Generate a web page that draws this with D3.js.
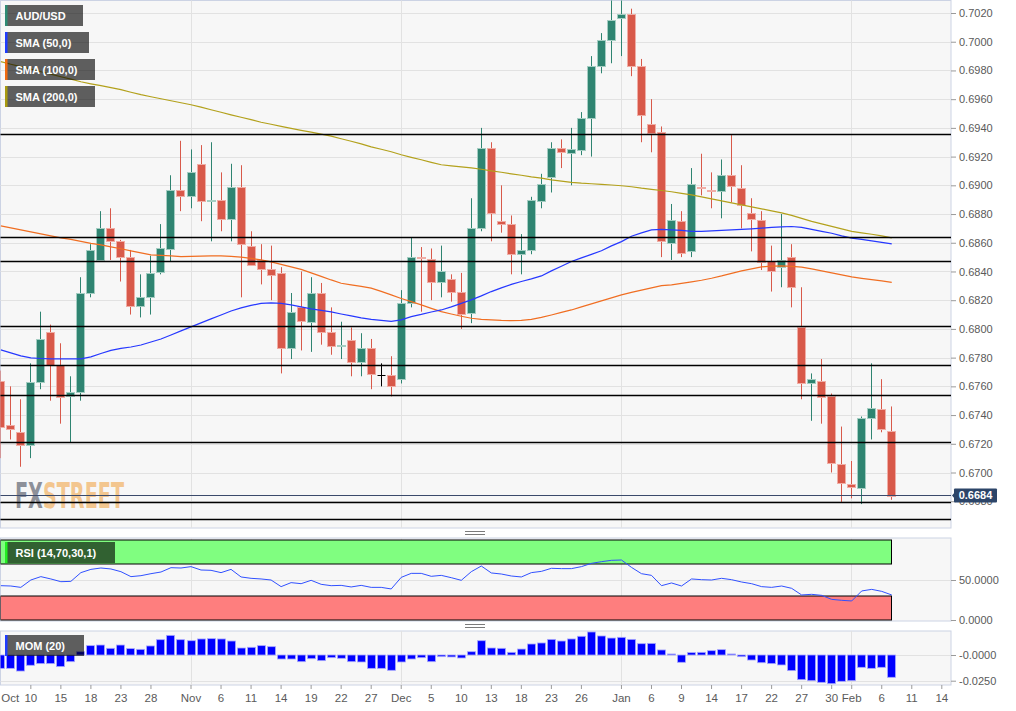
<!DOCTYPE html>
<html><head><meta charset="utf-8">
<script src="https://cdn.jsdelivr.net/npm/d3@7"></script>
<style>body{margin:0;background:#fff;}svg{display:block;font-family:"Liberation Sans",Arial,sans-serif;}</style>
</head><body>
<svg id="c" width="1016" height="711"></svg>
<script>
// ---------------- DATA ----------------
const dates = ["2019-10-07","2019-10-08","2019-10-09","2019-10-10","2019-10-11","2019-10-14","2019-10-15","2019-10-16","2019-10-17","2019-10-18",
"2019-10-21","2019-10-22","2019-10-23","2019-10-24","2019-10-25","2019-10-28","2019-10-29","2019-10-30","2019-10-31",
"2019-11-01","2019-11-04","2019-11-05","2019-11-06","2019-11-07","2019-11-08","2019-11-11","2019-11-12","2019-11-13","2019-11-14","2019-11-15",
"2019-11-18","2019-11-19","2019-11-20","2019-11-21","2019-11-22","2019-11-25","2019-11-26","2019-11-27","2019-11-28","2019-11-29",
"2019-12-02","2019-12-03","2019-12-04","2019-12-05","2019-12-06","2019-12-09","2019-12-10","2019-12-11","2019-12-12","2019-12-13",
"2019-12-16","2019-12-17","2019-12-18","2019-12-19","2019-12-20","2019-12-23","2019-12-24","2019-12-25","2019-12-26","2019-12-27","2019-12-30","2019-12-31",
"2020-01-01","2020-01-02","2020-01-03","2020-01-06","2020-01-07","2020-01-08","2020-01-09","2020-01-10","2020-01-13","2020-01-14","2020-01-15",
"2020-01-16","2020-01-17","2020-01-20","2020-01-21","2020-01-22","2020-01-23","2020-01-24","2020-01-27","2020-01-28","2020-01-29","2020-01-30","2020-01-31",
"2020-02-03","2020-02-04","2020-02-05","2020-02-06","2020-02-07"];
const futureDates = ["2020-02-10","2020-02-11","2020-02-12","2020-02-13","2020-02-14"];

const opens = [0.6764,0.6733,0.6728,0.6719,0.6763,0.6798,0.6775,0.6753,0.6756,0.6825,
0.6848,0.6870,0.6861,0.6850,0.6816,0.6822,0.6839,0.6856,0.6897,
0.6892,0.6915,0.6889,0.6890,0.6877,0.6899,0.6858,0.6848,0.6842,0.6839,0.6787,
0.6815,0.6805,0.6825,0.6798,0.6788,0.6792,0.6777,0.6787,0.6768,0.6768,
0.6765,0.6818,0.6850,0.6849,0.6832,0.6835,0.6826,0.6811,0.6870,0.6926,
0.6875,0.6873,0.6852,0.6855,0.6889,0.6906,0.6926,0.6922,0.6925,0.6947,0.6983,0.7001,
0.7016,0.7019,0.6983,0.6943,0.6937,0.6860,0.6875,0.6854,0.6899,0.6897,0.6896,
0.6907,0.6898,0.6881,0.6876,0.6847,0.6843,0.6850,0.6801,0.6762,0.6764,0.6753,0.6706,
0.6692,0.6689,0.6738,0.6744,0.6729];
const highs = [0.6771,0.6760,0.6751,0.6776,0.6812,0.6803,0.6790,0.6767,0.6836,0.6859,
0.6882,0.6884,0.6862,0.6855,0.6838,0.6851,0.6873,0.6907,0.6931,
0.6925,0.6928,0.6930,0.6909,0.6915,0.6914,0.6868,0.6859,0.6858,0.6843,0.6825,
0.6840,0.6836,0.6832,0.6815,0.6805,0.6801,0.6797,0.6793,0.6776,0.6781,
0.6827,0.6864,0.6857,0.6856,0.6858,0.6838,0.6839,0.6891,0.6940,0.6930,
0.6900,0.6879,0.6866,0.6892,0.6908,0.6930,0.6932,0.6940,0.6951,0.6990,0.7006,0.7032,
0.7032,0.7023,0.6988,0.6960,0.6941,0.6887,0.6882,0.6912,0.6922,0.6909,0.6918,
0.6935,0.6914,0.6891,0.6882,0.6858,0.6880,0.6859,0.6829,0.6769,0.6779,0.6755,0.6732,
0.6708,0.6739,0.6776,0.6765,0.6746];
const lows = [0.6710,0.6723,0.6704,0.6710,0.6758,0.6750,0.6734,0.6721,0.6750,0.6822,
0.6847,0.6848,0.6833,0.6810,0.6808,0.6810,0.6838,0.6847,0.6882,
0.6884,0.6875,0.6861,0.6868,0.6861,0.6822,0.6844,0.6831,0.6820,0.6769,0.6779,
0.6785,0.6784,0.6789,0.6782,0.6779,0.6767,0.6767,0.6758,0.6760,0.6753,
0.6762,0.6815,0.6812,0.6820,0.6822,0.6819,0.6800,0.6804,0.6868,0.6861,
0.6867,0.6838,0.6838,0.6852,0.6884,0.6895,0.6912,0.6900,0.6921,0.6920,0.6978,0.6985,
0.6990,0.6976,0.6930,0.6923,0.6850,0.6848,0.6850,0.6850,0.6893,0.6884,0.6877,
0.6888,0.6870,0.6854,0.6841,0.6826,0.6829,0.6815,0.6751,0.6736,0.6734,0.6700,0.6679,
0.6682,0.6678,0.6723,0.6728,0.6681];
const closes = [0.6732,0.6730,0.6719,0.6763,0.6793,0.6775,0.6753,0.6756,0.6825,0.6855,
0.6870,0.6861,0.6850,0.6816,0.6822,0.6839,0.6856,0.6897,0.6893,
0.6909,0.6889,0.6890,0.6877,0.6899,0.6859,0.6845,0.6842,0.6838,0.6787,0.6812,
0.6805,0.6825,0.6798,0.6788,0.6789,0.6777,0.6787,0.6769,0.6768,0.6760,
0.6818,0.6850,0.6849,0.6833,0.6840,0.6826,0.6811,0.6870,0.6926,0.6881,
0.6873,0.6852,0.6855,0.6890,0.6901,0.6926,0.6923,0.6925,0.6947,0.6983,0.7001,0.7015,
0.7019,0.6983,0.6949,0.6937,0.6861,0.6876,0.6853,0.6901,0.6898,0.6896,0.6907,
0.6899,0.6886,0.6877,0.6847,0.6840,0.6848,0.6829,0.6762,0.6765,0.6753,0.6706,0.6693,
0.6690,0.6738,0.6745,0.6730,0.6684];

const sma50 = [0.67854,0.67833,0.67812,0.67798,0.67794,0.67791,0.67791,0.67791,0.67791,0.67805,
0.67829,0.67850,0.67864,0.67874,0.67888,0.67909,0.67930,0.67958,0.67986,
0.68014,0.68042,0.68070,0.68097,0.68125,0.68146,0.68164,0.68178,0.68181,0.68178,0.68167,
0.68153,0.68139,0.68129,0.68118,0.68104,0.68091,0.68077,0.68066,0.68059,0.68052,
0.68063,0.68086,0.68101,0.68118,0.68132,0.68153,0.68178,0.68202,0.68230,0.68260,
0.68286,0.68310,0.68330,0.68348,0.68369,0.68404,0.68436,0.68469,0.68495,0.68519,0.68544,0.68578,
0.68608,0.68645,0.68669,0.68690,0.68693,0.68690,0.68686,0.68679,0.68679,0.68683,0.68686,
0.68690,0.68693,0.68697,0.68702,0.68707,0.68711,0.68713,0.68707,0.68693,0.68679,0.68666,0.68648,
0.68632,0.68624,0.68613,0.68603,0.68592];
const sma100 = [0.68718,0.68704,0.68690,0.68676,0.68662,0.68648,0.68634,0.68624,0.68610,0.68596,
0.68585,0.68571,0.68558,0.68544,0.68530,0.68516,0.68512,0.68509,0.68504,
0.68505,0.68507,0.68509,0.68509,0.68505,0.68500,0.68491,0.68481,0.68467,0.68449,0.68432,
0.68415,0.68390,0.68366,0.68341,0.68318,0.68307,0.68296,0.68284,0.68261,0.68237,
0.68212,0.68190,0.68167,0.68143,0.68120,0.68104,0.68088,0.68074,0.68067,0.68063,
0.68059,0.68058,0.68060,0.68067,0.68080,0.68097,0.68115,0.68132,0.68153,0.68174,0.68195,0.68216,
0.68237,0.68254,0.68270,0.68286,0.68302,0.68307,0.68317,0.68328,0.68339,0.68353,0.68369,
0.68387,0.68404,0.68418,0.68432,0.68437,0.68439,0.68436,0.68430,0.68418,0.68404,0.68390,0.68376,
0.68362,0.68352,0.68343,0.68334,0.68324];
const sma200 = [0.69861,0.69843,0.69826,0.69809,0.69791,0.69774,0.69756,0.69739,0.69721,0.69707,
0.69694,0.69680,0.69666,0.69648,0.69631,0.69617,0.69603,0.69589,0.69575,
0.69561,0.69544,0.69526,0.69509,0.69491,0.69474,0.69457,0.69439,0.69425,0.69411,0.69397,
0.69383,0.69370,0.69356,0.69342,0.69324,0.69307,0.69289,0.69268,0.69251,0.69234,
0.69213,0.69195,0.69178,0.69160,0.69143,0.69136,0.69129,0.69122,0.69112,0.69101,
0.69091,0.69080,0.69070,0.69059,0.69050,0.69038,0.69029,0.69021,0.69015,0.69011,0.69006,0.69002,
0.68997,0.68990,0.68980,0.68972,0.68964,0.68955,0.68944,0.68934,0.68920,0.68906,0.68892,
0.68878,0.68864,0.68850,0.68836,0.68822,0.68808,0.68791,0.68770,0.68749,0.68732,0.68714,0.68697,
0.68679,0.68669,0.68659,0.68648,0.68634];

const rsi = [42.9,42.5,40.8,50.0,54.2,51.3,47.9,48.3,59.2,63.3,
65.0,63.8,60.4,54.2,55.4,57.9,60.0,65.4,65.0,
66.7,62.5,62.1,59.2,63.3,53.8,52.1,51.3,50.0,41.7,46.7,
45.4,49.6,44.6,42.9,43.3,41.3,43.3,40.8,40.8,38.8,
53.3,58.3,58.3,54.6,55.8,52.9,49.6,60.4,67.5,58.8,
57.5,55.0,53.8,59.2,60.8,64.6,64.2,64.2,66.7,70.8,72.9,74.6,
75.0,65.8,57.9,55.8,42.9,46.3,42.5,51.3,50.4,50.0,52.1,
50.4,47.5,45.4,41.7,40.8,42.5,39.6,31.3,32.1,30.8,25.8,24.6,
23.8,36.3,38.3,35.8,31.3];
const mom = [-0.0130,-0.0130,-0.0156,-0.0100,-0.0084,-0.0084,-0.0113,-0.0065,0.0032,0.0091,
0.0097,0.0065,0.0097,0.0062,0.0055,0.0088,0.0149,0.0191,0.0149,
0.0139,0.0156,0.0159,0.0156,0.0136,0.0068,0.0075,0.0091,0.0081,-0.0039,-0.0039,
-0.0065,-0.0036,-0.0055,-0.0026,-0.0032,-0.0065,-0.0068,-0.0130,-0.0130,-0.0149,
-0.0068,-0.0039,-0.0026,-0.0065,-0.0016,-0.0019,-0.0029,0.0032,0.0139,0.0068,
0.0065,0.0026,0.0058,0.0107,0.0117,0.0152,0.0136,0.0156,0.0182,0.0224,0.0185,0.0165,
0.0172,0.0152,0.0110,0.0113,0.0049,0.0010,-0.0071,0.0023,0.0026,0.0042,0.0052,
0.0010,-0.0016,-0.0049,-0.0075,-0.0084,-0.0097,-0.0152,-0.0240,-0.0250,-0.0266,-0.0279,-0.0256,
-0.0250,-0.0120,-0.0130,-0.0120,-0.0217];

const priceTicks = [0.6680,0.6700,0.6720,0.6740,0.6760,0.6780,0.6800,0.6820,0.6840,0.6860,0.6880,0.6900,0.6920,0.6940,0.6960,0.6980,0.7000,0.7020];
const rsiTicks = [0,50];
const momTicks = [0,-0.025];
const srLevels = [0.69355,0.68642,0.68473,0.68018,0.67747,0.67538,0.67210,0.66792,0.66674];
const lastPrice = 0.6684;
const monthStarts = ["2019-11-01","2019-12-02","2020-01-01","2020-02-03"];
const xTickDates = ["2019-10-07","2019-10-10","2019-10-15","2019-10-18","2019-10-23","2019-10-28","2019-11-01","2019-11-06","2019-11-11","2019-11-14","2019-11-19","2019-11-22","2019-11-27","2019-12-02","2019-12-05","2019-12-10","2019-12-13","2019-12-18","2019-12-23","2019-12-26","2020-01-01","2020-01-06","2020-01-09","2020-01-14","2020-01-17","2020-01-22","2020-01-27","2020-01-30","2020-02-03","2020-02-06","2020-02-11","2020-02-14"];
const xTickLabels = ["Oct","10","15","18","23","28","Nov","6","11","14","19","22","27","Dec","5","10","13","18","23","26","Jan","6","9","14","17","22","27","30","Feb","6","11","14"];

// ---------------- LAYOUT ----------------
const svg = d3.select("#c");
const PR = 951;
const P = {main:[0.5,528], rsi:[538,621], mom:[631,685]};
const allDates = dates.concat(futureDates);
const di = d => allDates.indexOf(d);
const x = d3.scaleLinear().domain([0,94]).range([0.3,941.3]);
const y = d3.scaleLinear().domain([0.6700,0.7020]).range([472.5,13]);
const yR = d3.scaleLinear().domain([0,100]).range([620,540]);
const yM = d3.scaleLinear().domain([0,-0.025]).range([655,680.7]);
const cx = i => Math.round(x(i)) + 0.5;
const crisp = v => Math.round(v) + 0.5;

const defs = svg.append("defs");
Object.entries(P).forEach(([k,[t,b]])=>{
  defs.append("clipPath").attr("id","clip-"+k).append("rect").attr("x",0.5).attr("y",t).attr("width",PR-0.5).attr("height",b-t);
});

svg.append("rect").attr("width",1016).attr("height",711).attr("fill","#fff");
Object.entries(P).forEach(([k,[t,b]])=>{
  svg.append("rect").attr("x",0.5).attr("y",t).attr("width",PR-0.5).attr("height",b-t)
    .attr("fill","#f7f7f7").attr("stroke","#ccd3e4").attr("stroke-width",1);
});

// grips
[[531.5,534.5],[624.5,627.5]].forEach(ys=>ys.forEach(yy=>{
  svg.append("line").attr("x1",465).attr("x2",485).attr("y1",yy).attr("y2",yy).attr("stroke","#7a7a7a").attr("stroke-width",1);
}));

// ---------------- MAIN PANEL ----------------
const gm = svg.append("g").attr("clip-path","url(#clip-main)");
gm.selectAll(".hg").data(priceTicks).join("line").attr("x1",0).attr("x2",PR)
  .attr("y1",d=>crisp(y(d))).attr("y2",d=>crisp(y(d))).attr("stroke","#e2e2e2");
const vGrid = (g,t,b)=>g.selectAll(".vg").data(monthStarts).join("line")
  .attr("x1",d=>cx(di(d))).attr("x2",d=>cx(di(d))).attr("y1",t).attr("y2",b).attr("stroke","#e2e2e2");
vGrid(gm,0,528);

// watermark (single text, two coloured parts)
const wm = gm.append("text").attr("x",15).attr("y",508).attr("font-family","'DejaVu Sans Condensed','DejaVu Sans'").attr("font-weight","bold")
  .attr("font-size",35).attr("textLength",109).attr("lengthAdjust","spacingAndGlyphs");
wm.append("tspan").attr("fill","#8d9099").text("FX");
wm.append("tspan").attr("fill","#f3c68f").text("STREET");

// candles
const candles = dates.map((d,i)=>({i,o:opens[i],h:highs[i],l:lows[i],c:closes[i]}));
const colOf = d => d.c>d.o ? "up" : (d.c<d.o ? "down" : "flat");
const fillC = {up:"#2f8471",down:"#d8594a",flat:"#000"};
const strokeC = {up:"#a4cdc2",down:"#f0ada5",flat:"#000"};
const cg = gm.append("g");
cg.selectAll(".wick").data(candles).join("line")
  .attr("x1",d=>cx(d.i)).attr("x2",d=>cx(d.i)).attr("y1",d=>y(d.h)).attr("y2",d=>y(d.l))
  .attr("stroke",d=>fillC[colOf(d)]).attr("stroke-width",1);
cg.selectAll(".body").data(candles.filter(d=>colOf(d)!=="flat")).join("rect")
  .attr("x",d=>cx(d.i)-4).attr("width",8)
  .attr("y",d=>Math.round(y(Math.max(d.o,d.c)))+0.5)
  .attr("height",d=>Math.max(1,Math.round(Math.abs(y(d.o)-y(d.c)))))
  .attr("fill",d=>fillC[colOf(d)]).attr("stroke",d=>strokeC[colOf(d)]).attr("stroke-width",1);
cg.selectAll(".doji").data(candles.filter(d=>colOf(d)==="flat")).join("line")
  .attr("x1",d=>cx(d.i)-4).attr("x2",d=>cx(d.i)+4).attr("y1",d=>crisp(y(d.o))).attr("y2",d=>crisp(y(d.o)))
  .attr("stroke","#000").attr("stroke-width",1);

// SMA lines
const ln = d3.line().x((d,i)=>x(i)+0.5).y(d=>y(d));
[[sma200,"#b3a11c"],[sma100,"#f06e22"],[sma50,"#2638ff"]].forEach(([s,c])=>{
  gm.append("path").attr("d",ln(s)).attr("fill","none").attr("stroke",c).attr("stroke-width",1.2);
});

// support / resistance
gm.selectAll(".sr").data(srLevels).join("line").attr("x1",0).attr("x2",PR)
  .attr("y1",d=>crisp(y(d))).attr("y2",d=>crisp(y(d))).attr("stroke","#000").attr("stroke-width",1.3);
gm.append("line").attr("x1",0).attr("x2",PR).attr("y1",crisp(y(lastPrice))).attr("y2",crisp(y(lastPrice)))
  .attr("stroke","#3b4a6b").attr("stroke-width",1);

// legends
const legend = (g,yy,w,label,col)=>{
  g.append("rect").attr("x",5).attr("y",yy).attr("width",w).attr("height",21).attr("fill","rgba(0,0,0,0.62)");
  g.append("rect").attr("x",5).attr("y",yy).attr("width",2.5).attr("height",21).attr("fill",col);
  g.append("text").attr("x",15.5).attr("y",yy+14.5).attr("fill","#fff").attr("font-size",11).attr("font-weight","bold").text(label);
};
legend(svg,5,78,"AUD/USD","#2e8b74");
legend(svg,32,84,"SMA (50,0)","#1f3cff");
legend(svg,59,90,"SMA (100,0)","#f06a10");
legend(svg,86,90,"SMA (200,0)","#a89a10");

// y axis main
const styleAxis = g=>{
  g.select(".domain").remove();
  g.selectAll(".tick line").attr("stroke","#9a9a9a");
  g.selectAll(".tick text").attr("fill","#5a5a5a").attr("font-size",11).attr("font-family","'Liberation Sans',Arial,sans-serif");
};
const fmt4 = d => (d<0 ? "-" : "") + Math.abs(d).toFixed(4);
svg.append("g").attr("transform",`translate(${PR},0)`)
  .call(d3.axisRight(y).tickValues(priceTicks).tickSize(5).tickPadding(3).tickFormat(d=>d.toFixed(4)))
  .call(styleAxis);

// last price label (covers the upper part of the 0.6680 label, as in the original)
const ly = y(lastPrice);
svg.append("path").attr("d",`M952,${ly} L955,${ly-3.5} L955,${ly+3.5} Z`).attr("fill","#2c4569");
svg.append("rect").attr("x",954).attr("y",ly-7).attr("width",43).attr("height",14).attr("rx",1).attr("fill","#2c4569");
svg.append("text").attr("x",975.5).attr("y",ly+4).attr("text-anchor","middle").attr("fill","#fff")
  .attr("font-size",11).attr("font-weight","bold").text(lastPrice.toFixed(4));

// ---------------- RSI PANEL ----------------
const gr = svg.append("g").attr("clip-path","url(#clip-rsi)");
gr.append("line").attr("x1",0).attr("x2",PR).attr("y1",crisp(yR(50))).attr("y2",crisp(yR(50))).attr("stroke","#e2e2e2");
vGrid(gr,538,621);
const zx0 = 0.5, zx1 = cx(dates.length-1);
gr.append("rect").attr("x",zx0).attr("y",yR(100)).attr("width",zx1-zx0).attr("height",yR(70)-yR(100))
  .attr("fill","#80fe80").attr("stroke","#000").attr("stroke-width",1);
gr.append("rect").attr("x",zx0).attr("y",yR(30)).attr("width",zx1-zx0).attr("height",yR(0)-yR(30))
  .attr("fill","#fe7e7e").attr("stroke","#000").attr("stroke-width",1);
gr.append("path").attr("d",d3.line().x((d,i)=>x(i)+0.5).y(d=>yR(d))(rsi))
  .attr("fill","none").attr("stroke","#3050ff").attr("stroke-width",1);
legend(svg,542,110,"RSI (14,70,30,1)","#22ee22");
svg.append("g").attr("transform",`translate(${PR},0)`)
  .call(d3.axisRight(yR).tickValues(rsiTicks).tickSize(5).tickPadding(3).tickFormat(d=>d.toFixed(4)))
  .call(styleAxis);

// ---------------- MOM PANEL ----------------
const gmo = svg.append("g").attr("clip-path","url(#clip-mom)");
momTicks.forEach(t=>gmo.append("line").attr("x1",0).attr("x2",PR).attr("y1",crisp(yM(t))).attr("y2",crisp(yM(t))).attr("stroke","#e2e2e2"));
vGrid(gmo,631,685);
gmo.selectAll(".mb").data(mom).join("rect")
  .attr("x",(d,i)=>cx(i)-4).attr("width",8)
  .attr("y",d=>Math.min(yM(0),yM(d))).attr("height",d=>Math.max(0.8,Math.abs(yM(d)-yM(0))))
  .attr("fill","#0000ff").attr("stroke","#a7a7ff").attr("stroke-width",0.8);
legend(svg,635,79,"MOM (20)","#1f3cff");
svg.append("g").attr("transform",`translate(${PR},0)`)
  .call(d3.axisRight(yM).tickValues(momTicks).tickSize(5).tickPadding(3).tickFormat(d=>d===0?"-0.0000":fmt4(d)))
  .call(styleAxis);

// ---------------- X AXIS ----------------
const xa = svg.append("g").attr("transform","translate(0,685)")
  .call(d3.axisBottom(x).tickValues(xTickDates.map(di)).tickSize(4).tickPadding(5).tickFormat((d,i)=>xTickLabels[i]))
  .call(styleAxis);
xa.selectAll(".tick").filter((d,i)=>i===0).select("text").attr("text-anchor","start").attr("x",0.5);
xa.selectAll(".tick").filter((d,i)=>i===0).select("line").remove();
xa.selectAll(".tick text").attr("font-size",11.5);
</script>
</body></html>
